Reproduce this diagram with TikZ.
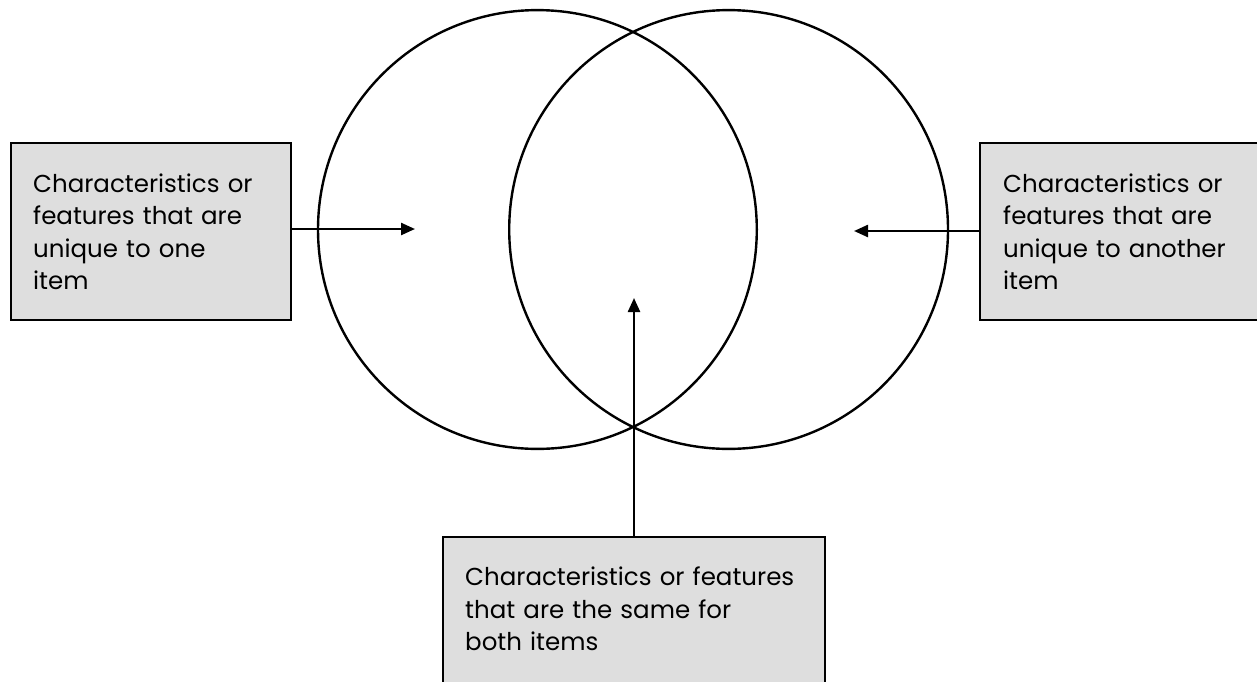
\documentclass[tikz,border=0pt]{standalone}
\usepackage{fontspec}
\setmainfont{Poppins}
\usetikzlibrary{arrows.meta}
\begin{document}
\begin{tikzpicture}[x=1pt,y=-1pt,
  ln/.style={line width=2.4pt},
  boxfill/.style={ln, draw=black, fill=gray!26},
  box/.style={boxfill, align=left, inner sep=0pt,
    font=\fontsize{24.5}{32.5}\selectfont},
  arr/.style={ln, -{Triangle[length=14pt,width=12pt]}}]
\useasboundingbox (0,0) rectangle (1257,681);
\clip (0,0) rectangle (1257,681);
\fill[white] (0,0) rectangle (1257,681);
% circles
\draw[ln] (537.4,229.5) circle[radius=219.4];
\draw[ln] (728.6,229.5) circle[radius=219.4];
% boxes
\node[box, anchor=north west, minimum width=280pt, minimum height=177pt,
  text width=236pt, inner xsep=22pt] (lbox) at (10,142)
  {Characteristics or\\features that are\\unique to one\\item};
\node[box, anchor=north west, minimum width=300pt, minimum height=177pt,
  text width=254pt, inner xsep=23pt] (rbox) at (979,142)
  {Characteristics or\\features that are\\unique to another\\item};
\draw[boxfill] (443,537) rectangle (825,700);
\node[box, draw=none, fill=none, anchor=north west, minimum width=382pt,
  text width=340pt, inner xsep=21pt, inner ysep=29pt] (bbox) at (443,537)
  {Characteristics or features\\that are the same for\\both items};
% arrow ends
\coordinate (lt) at (415,229);
\coordinate (rt) at (854,231);
\coordinate (bt) at (634,298);
\draw[arr] (lbox.east |- lt) -- (lt);
\draw[arr] (rbox.west |- rt) -- (rt);
\draw[arr] (bbox.north -| bt) -- (bt);
\end{tikzpicture}
\end{document}
